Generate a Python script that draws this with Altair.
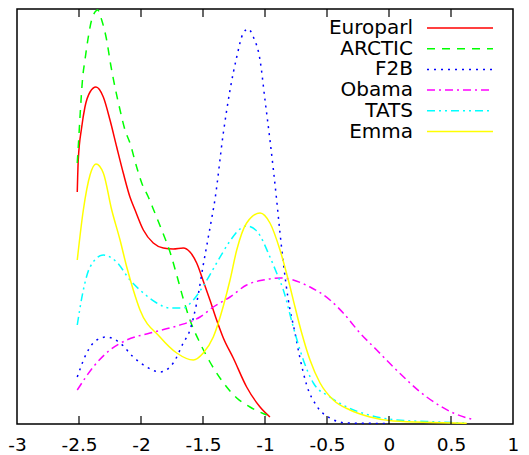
import altair as alt
import pandas as pd

series_names = ["Europarl", "ARCTIC", "F2B", "Obama", "TATS", "Emma"]
series_colors = ["#ff0000", "#00ff00", "#0000ff", "#ff00ff", "#00ffff", "#ffff00"]
series_dashes = [None, [8, 7], [2, 5], [8, 4, 2, 4], [8, 4, 2, 4, 2, 4], None]

europarl_x = [-2.514, -2.506, -2.478, -2.452, -2.411, -2.363, -2.304, -2.25, -2.196, -2.143,
              -2.089, -2.048, -1.981, -1.901, -1.82, -1.74, -1.659, -1.605, -1.551, -1.498,
              -1.444, -1.39, -1.336, -1.256, -1.148, -1.04, -0.96]
europarl_y = [2.32, 2.64, 2.97, 3.17, 3.32, 3.37, 3.27, 3.04, 2.77, 2.51,
              2.27, 2.14, 1.94, 1.81, 1.76, 1.75, 1.76, 1.72, 1.61, 1.43,
              1.24, 1.04, 0.86, 0.66, 0.37, 0.17, 0.07]

arctic_x = [-2.514, -2.506, -2.492, -2.47, -2.452, -2.425, -2.398, -2.349, -2.317, -2.277,
            -2.244, -2.21, -2.169, -2.129, -2.089, -2.035, -1.994, -1.941, -1.901, -1.833,
            -1.766, -1.71, -1.661, -1.605, -1.524, -1.444, -1.309, -1.228, -1.121, -0.986]
arctic_y = [2.61, 2.77, 3.07, 3.47, 3.64, 3.87, 4.04, 4.14, 4.04, 3.84,
            3.59, 3.37, 3.14, 2.94, 2.81, 2.57, 2.41, 2.27, 2.15, 1.94,
            1.72, 1.48, 1.26, 1.04, 0.81, 0.62, 0.37, 0.26, 0.17, 0.09]

f2b_x = [-2.514, -2.438, -2.357, -2.277, -2.169, -2.062, -1.954, -1.847, -1.74, -1.659,
         -1.605, -1.551, -1.498, -1.444, -1.403, -1.336, -1.282, -1.228, -1.175, -1.135,
         -1.094, -1.04, -1.0, -0.96, -0.906, -0.879, -0.852, -0.812, -0.758, -0.718,
         -0.664, -0.583, -0.476, -0.341, 0.0]
f2b_y = [0.47, 0.71, 0.84, 0.87, 0.81, 0.67, 0.57, 0.52, 0.61, 0.81,
         0.94, 1.21, 1.59, 1.96, 2.25, 2.91, 3.34, 3.67, 3.91, 3.95,
         3.87, 3.64, 3.24, 2.84, 2.24, 1.91, 1.61, 1.24, 0.91, 0.66,
         0.39, 0.18, 0.06, 0.01, 0.005]

obama_x = [-2.514, -2.385, -2.25, -2.115, -1.927, -1.712, -1.524, -1.417, -1.282, -1.148,
           -1.014, -0.879, -0.637, -0.476, -0.369, -0.234, -0.099, 0.035, 0.304, 0.519,
           0.69]
obama_y = [0.34, 0.57, 0.74, 0.84, 0.91, 0.98, 1.07, 1.17, 1.27, 1.39,
           1.44, 1.46, 1.37, 1.24, 1.11, 0.91, 0.74, 0.57, 0.27, 0.11,
           0.04]

tats_x = [-2.514, -2.465, -2.411, -2.304, -2.196, -2.089, -1.981, -1.873, -1.766, -1.659,
          -1.578, -1.498, -1.39, -1.282, -1.202, -1.148, -1.067, -0.96, -0.906, -0.852,
          -0.772, -0.691, -0.61, -0.476, -0.341, -0.16, 0.062, 0.3, 0.637]
tats_y = [0.99, 1.34, 1.57, 1.69, 1.62, 1.44, 1.31, 1.21, 1.16, 1.16,
          1.24, 1.38, 1.61, 1.83, 1.95, 1.98, 1.93, 1.67, 1.51, 1.34,
          0.97, 0.64, 0.41, 0.27, 0.17, 0.09, 0.04, 0.025, 0.01]

emma_x = [-2.514, -2.465, -2.411, -2.363, -2.304, -2.236, -2.169, -2.115, -2.062, -2.008,
          -1.847, -1.712, -1.578, -1.498, -1.417, -1.336, -1.282, -1.228, -1.148, -1.04,
          -0.96, -0.879, -0.812, -0.758, -0.704, -0.637, -0.556, -0.449, -0.315, -0.153,
          0.035, 0.627]
emma_y = [1.64, 2.14, 2.49, 2.6, 2.51, 2.14, 1.84, 1.57, 1.34, 1.14,
          0.87, 0.71, 0.64, 0.71, 0.87, 1.18, 1.44, 1.74, 2.01, 2.11,
          2.01, 1.74, 1.44, 1.17, 0.91, 0.64, 0.41, 0.24, 0.14, 0.07,
          0.03, 0.007]

series_x = [europarl_x, arctic_x, f2b_x, obama_x, tats_x, emma_x]
series_y = [europarl_y, arctic_y, f2b_y, obama_y, tats_y, emma_y]

x_tick_values = [-3, -2.5, -2, -1.5, -1, -0.5, 0, 0.5, 1]
inner_tick_values = [-2.5, -2, -1.5, -1, -0.5, 0, 0.5]

x_scale = alt.Scale(domain=[-3, 1], nice=False, zero=False)
x_axis = alt.Axis(values=x_tick_values, labelExpr="toString(datum.value)", domain=False,
                  ticks=False, grid=False, labelFontSize=18.5, labelFont="DejaVu Sans",
                  labelColor="black", labelPadding=11, labelFlush=False,
                  labelOverlap=False, labelBound=False, title=None)
X = alt.X("x:Q", scale=x_scale, axis=x_axis)
y_scale = alt.Scale(domain=[0, 4.15], nice=False, zero=True)
legend_y = alt.Y("name:N", scale=alt.Scale(type="point", domain=series_names,
                                            range=[19, 122.5], padding=0), axis=None)

layers = []
for name, color, dash, xs, ys in zip(series_names, series_colors, series_dashes, series_x, series_y):
    df = pd.DataFrame({"x": xs, "y": ys})
    kw = dict(color=color, strokeWidth=1.5, interpolate="monotone", clip=True)
    if dash:
        kw["strokeDash"] = dash
    layers.append(alt.Chart(df).mark_line(**kw).encode(
        x=X, y=alt.Y("y:Q", scale=y_scale, axis=None)))

tick_df = pd.DataFrame({"x": inner_tick_values})
layers.append(alt.Chart(tick_df).mark_rule(color="black", strokeWidth=1.2).encode(
    x=X, y=alt.value(415), y2=alt.value(407)))
layers.append(alt.Chart(tick_df).mark_rule(color="black", strokeWidth=1.2).encode(
    x=X, y=alt.value(0), y2=alt.value(8)))

legend_df = pd.DataFrame({"name": series_names})
layers.append(alt.Chart(legend_df).mark_text(
    align="right", baseline="middle", fontSize=20, font="DejaVu Sans", color="black").encode(
    x=alt.value(396), y=legend_y, text="name:N"))
for name, color, dash in zip(series_names, series_colors, series_dashes):
    kw = dict(color=color, strokeWidth=1.5)
    if dash:
        kw["strokeDash"] = dash
    layers.append(alt.Chart(pd.DataFrame({"name": [name]})).mark_rule(**kw).encode(
        x=alt.value(410), x2=alt.value(476), y=legend_y))

chart = alt.layer(*layers).resolve_scale(y="independent").properties(
    width=496, height=415,
    autosize=alt.AutoSizeParams(type="none"),
    padding={"left": 9, "top": 1, "right": 8, "bottom": 30},
    background="white",
).configure_view(stroke="black", strokeWidth=1.5)

chart.save("out.html", embed_options={"renderer": "svg", "actions": False})
